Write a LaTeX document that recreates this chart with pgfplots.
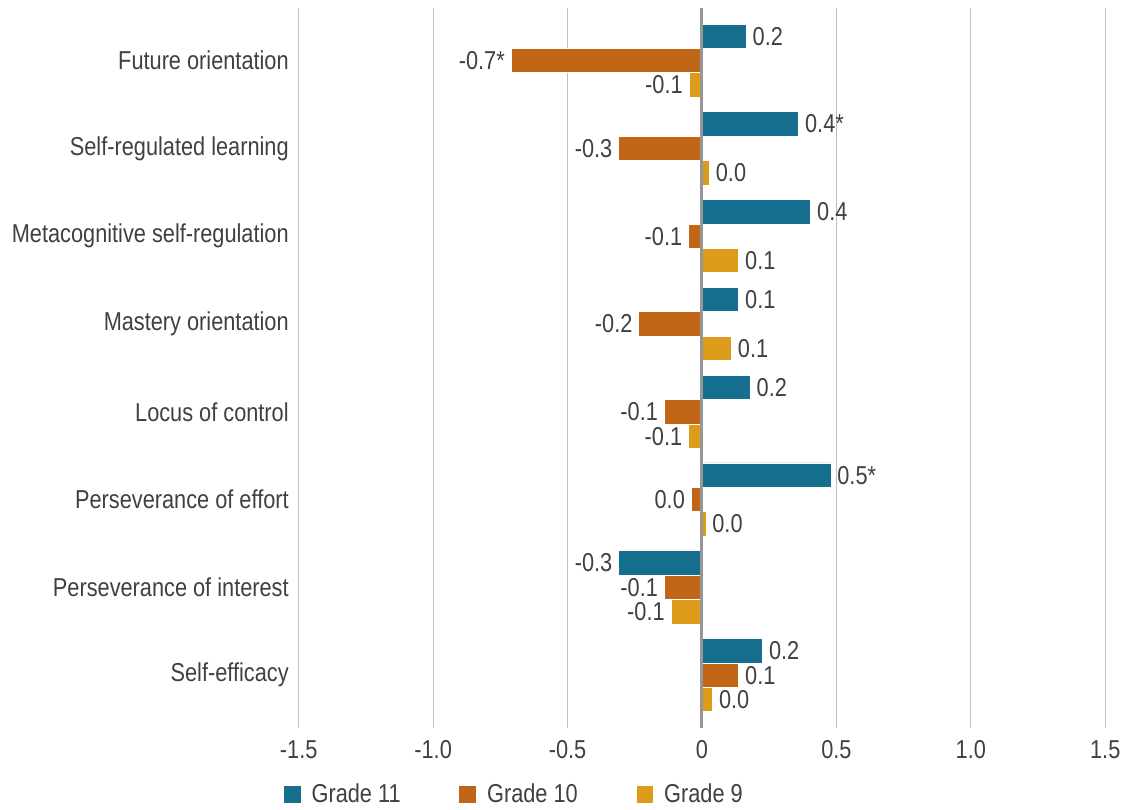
\documentclass[border=0pt]{standalone}
\usepackage{fontspec}
\setmainfont{Liberation Sans}[FakeStretch=0.84]
\usepackage{pgfplots}
\pgfplotsset{compat=1.18}
\definecolor{cA}{HTML}{176F8F}
\definecolor{cB}{HTML}{C16516}
\definecolor{cC}{HTML}{DD9B1B}
\definecolor{txt}{HTML}{404040}
\definecolor{gridc}{HTML}{BFBFBF}
\pgfplotsset{
  lab/.style={point meta=explicit symbolic, nodes near coords={\pgfplotspointmeta}, nodes near coords align={anchor=#1},
    every node near coord/.append style={font=\fontsize{13}{15}\selectfont, text=txt, inner xsep=3pt, inner ysep=0pt}},
  barA/.style={fill=cA, draw=white, line width=0.4pt, bar width=0.278, bar shift=-0.278},
  barB/.style={fill=cB, draw=white, line width=0.4pt, bar width=0.278, bar shift=0},
  barC/.style={fill=cC, draw=white, line width=0.4pt, bar width=0.278, bar shift=0.278},
}
\begin{document}
\begin{tikzpicture}
\begin{axis}[
  scale only axis,
  width=405pt, height=361.5pt,
  xbar,
  y dir=reverse,
  xmin=-1.5, xmax=1.5,
  ymin=-0.6, ymax=7.6,
  clip=false,
  axis line style={draw=none},
  major tick length=0pt,
  xtick={-1.5,-1,-0.5,0,0.5,1,1.5},
  xticklabels={-1.5,-1.0,-0.5,0,0.5,1.0,1.5},
  ytick={0,1,2,3,4,5,6,7},
  yticklabels={Future orientation,Self-regulated learning,Metacognitive self-regulation,Mastery orientation,Locus of control,Perseverance of effort,Perseverance of interest,Self-efficacy},
  xmajorgrids,
  grid style={gridc, line width=0.6pt},
  ticklabel style={font=\fontsize{13}{15}\selectfont, text=txt},
  yticklabel style={xshift=-1.5pt},
  xticklabel style={yshift=-3pt},
  legend style={draw=none, inner sep=0pt, at={(rel axis cs:-0.02,-0.093)}, anchor=west,
    font=\fontsize{13}{15}\selectfont, text=txt, legend columns=3,
    /tikz/every odd column/.append style={column sep=3pt},
    /tikz/every even column/.append style={column sep=27pt}},
  legend image code/.code={\fill[#1] (0pt,-4.5pt) rectangle (9pt,4.5pt);},
]
% Grade 11
\addplot[barA, lab=west] coordinates {
 (0.165,0) [0.2]
 (0.36,1) [0.4*]
 (0.405,2) [0.4]
 (0.137,3) [0.1]
 (0.18,4) [0.2]
 (0.48,5) [0.5*]
 (0.226,7) [0.2]
};
% Grade 10
\addplot[barB, lab=east] coordinates {
 (-0.71,0) [-0.7*]
 (-0.31,1) [-0.3]
 (-0.05,2) [-0.1]
 (-0.235,3) [-0.2]
 (-0.14,4) [-0.1]
 (-0.04,5) [0.0]
 (-0.14,6) [-0.1]
};
% Grade 9
\addplot[barC, lab=west] coordinates {
 (0.028,1) [0.0]
 (0.137,2) [0.1]
 (0.11,3) [0.1]
 (0.015,5) [0.0]
 (0.04,7) [0.0]
};
\addplot[barA, lab=east, forget plot] coordinates {
 (-0.31,6) [-0.3]
};
\addplot[barB, lab=west, forget plot] coordinates {
 (0.137,7) [0.1]
};
\addplot[barC, lab=east, forget plot] coordinates {
 (-0.048,0) [-0.1]
 (-0.05,4) [-0.1]
 (-0.115,6) [-0.1]
};
\legend{Grade 11,Grade 10,Grade 9}
\draw[color={rgb,255:red,150;green,150;blue,150}, line width=1.5pt] (axis cs:0,-0.6) -- (axis cs:0,7.6);
\path[draw=none] (rel axis cs:-0.37037,-0.10512) rectangle (rel axis cs:1.02099,1.01107);
\end{axis}
\end{tikzpicture}
\end{document}
